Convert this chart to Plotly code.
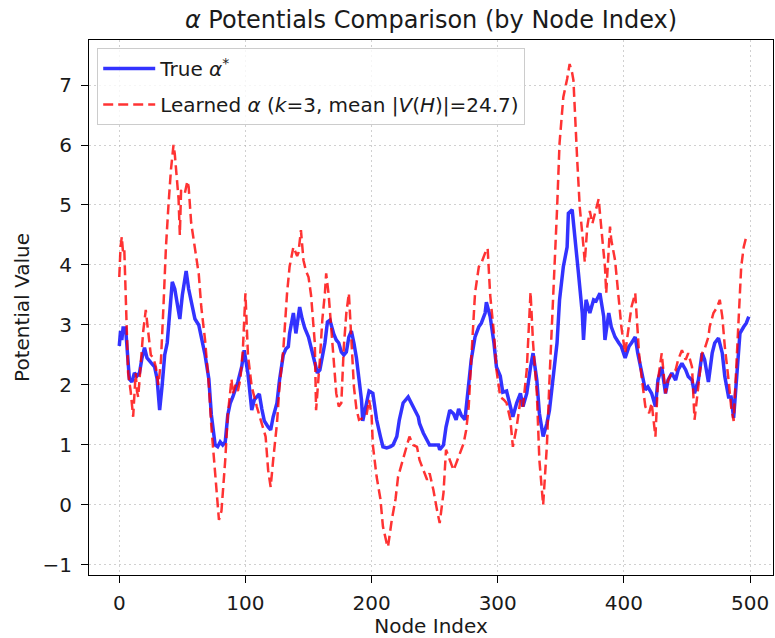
import plotly.graph_objects as go

# True potentials (alpha*) sampled along the node index
true_nodes = [0, 1, 2, 3, 5, 6, 8, 10, 12, 14, 16, 18, 20, 22, 24, 26, 28, 30, 32, 34,
              36, 38, 40, 42, 44, 46, 48, 50, 52, 53, 55, 58, 60, 63, 68, 71, 73, 76, 78, 80,
              82, 84, 86, 88, 90, 94, 97, 99, 102, 105, 107, 109, 111, 113, 115, 118, 120, 122, 125, 127,
              130, 132, 134, 135, 138, 140, 143, 145, 147, 150, 152, 155, 157, 159, 161, 163, 165, 167, 170, 172,
              174, 176, 178, 180, 182, 184, 186, 188, 190, 192, 193, 195, 196, 198, 201, 204, 207, 209, 212, 215,
              217, 220, 222, 225, 229, 233, 237, 238, 241, 246, 250, 253, 254, 257, 259, 262, 265, 267, 269, 271,
              274, 277, 279, 282, 285, 287, 290, 291, 294, 297, 299, 302, 304, 307, 310, 312, 315, 318, 320, 323,
              326, 328, 331, 333, 336, 339, 341, 344, 347, 349, 352, 355, 356, 359, 361, 364, 367, 368, 370, 373,
              376, 378, 381, 384, 385, 388, 390, 393, 396, 398, 401, 404, 406, 409, 411, 414, 417, 419, 422, 425,
              427, 430, 433, 435, 438, 441, 443, 446, 449, 451, 454, 456, 459, 462, 464, 467, 470, 472, 475, 478,
              480, 483, 485, 487, 489, 492, 495, 497, 499]
true_vals = [2.65, 2.9, 2.75, 2.95, 2.95, 2.6, 2.1, 2.05, 2.2, 2.15, 2.2, 2.45, 2.62, 2.45, 2.4, 2.35, 2.3, 2.1, 1.58, 2.0,
             2.5, 2.7, 3.3, 3.72, 3.6, 3.35, 3.1, 3.5, 3.8, 3.9, 3.6, 3.3, 3.1, 3.0, 2.5, 2.1, 1.5, 1.0, 0.97, 1.05,
             1.0, 1.05, 1.5, 1.7, 1.8, 2.05, 2.3, 2.58, 2.19, 1.58, 1.75, 1.8, 1.85, 1.6, 1.4, 1.3, 1.25, 1.47, 1.7, 2.08,
             2.5, 2.6, 2.64, 2.86, 3.2, 2.86, 3.3, 3.1, 2.95, 2.8, 2.64, 2.4, 2.2, 2.25, 2.5, 2.7, 3.05, 3.08, 2.85, 2.75,
             2.7, 2.55, 2.5, 2.55, 2.8, 2.9, 2.7, 2.45, 2.1, 1.75, 1.4, 1.6, 1.75, 1.9, 1.86, 1.42, 1.14, 0.97, 0.95, 0.97,
             1.0, 1.14, 1.42, 1.7, 1.8, 1.64, 1.47, 1.36, 1.2, 1.0, 1.0, 1.0, 0.92, 1.0, 1.3, 1.58, 1.52, 1.42, 1.6, 1.5,
             1.42, 1.97, 2.42, 2.8, 2.97, 3.03, 3.2, 3.38, 3.14, 2.7, 2.3, 2.15, 1.88, 1.9, 1.64, 1.47, 1.7, 1.86, 1.64, 1.86,
             2.3, 2.53, 2.08, 1.53, 1.14, 1.36, 1.58, 2.14, 2.7, 3.42, 3.97, 4.3, 4.86, 4.92, 4.53, 3.86, 3.2, 2.75, 3.42, 3.2,
             3.42, 3.4, 3.53, 3.14, 2.75, 3.2, 2.97, 2.8, 2.7, 2.64, 2.45, 2.64, 2.7, 2.8, 2.53, 2.2, 1.92, 1.97, 1.86, 1.64,
             2.08, 2.3, 1.86, 2.08, 2.2, 2.08, 2.25, 2.36, 2.25, 2.14, 2.08, 1.86, 2.08, 2.53, 2.42, 2.05, 2.53, 2.7, 2.78, 2.53,
             2.14, 1.8, 1.8, 1.45, 2.08, 2.86, 2.97, 3.03, 3.14]

# Learned potentials (alpha, k=3) sampled along the node index
learned_nodes = [0, 1, 2, 3, 4, 5, 6, 7, 9, 11, 13, 14, 15, 17, 19, 21, 23, 25, 27, 29,
                 31, 33, 35, 37, 39, 41, 43, 44, 47, 48, 49, 52, 54, 55, 57, 60, 63, 65, 68, 71,
                 73, 76, 78, 79, 81, 84, 86, 88, 89, 90, 92, 94, 96, 98, 100, 102, 105, 109, 113, 116,
                 118, 120, 122, 125, 127, 130, 133, 135, 138, 141, 142, 144, 146, 148, 150, 152, 155, 156, 159, 161,
                 163, 164, 166, 168, 170, 172, 174, 176, 178, 180, 182, 184, 186, 188, 190, 193, 196, 198, 200, 201,
                 204, 207, 209, 212, 213, 216, 219, 221, 225, 228, 230, 233, 236, 238, 241, 244, 246, 249, 252, 254,
                 257, 259, 262, 265, 267, 270, 273, 275, 277, 279, 282, 285, 287, 290, 292, 294, 297, 299, 302, 305,
                 307, 310, 312, 315, 318, 320, 323, 326, 328, 331, 333, 336, 339, 341, 344, 347, 349, 352, 355, 357,
                 359, 360, 363, 365, 368, 369, 371, 373, 375, 377, 380, 382, 385, 386, 389, 390, 393, 396, 398, 401,
                 404, 406, 409, 410, 412, 414, 417, 420, 422, 425, 427, 430, 433, 435, 438, 441, 443, 446, 449, 451,
                 454, 456, 459, 462, 464, 467, 468, 471, 474, 476, 478, 480, 483, 485, 487, 488, 491, 493, 495, 497]
learned_vals = [3.8, 4.3, 4.47, 4.2, 4.25, 3.5, 2.6, 2.2, 1.9, 1.47, 2.2, 1.9, 1.8, 2.3, 2.9, 3.25, 2.9, 2.5, 2.45, 2.3,
                2.0, 2.4, 3.3, 4.3, 5.0, 5.6, 6.0, 5.85, 5.1, 4.5, 5.25, 5.2, 5.4, 5.3, 4.7, 4.3, 3.85, 3.3, 2.75, 2.0,
                1.3, 0.53, -0.05, -0.25, -0.1, 0.75, 1.5, 1.9, 2.1, 1.85, 2.0, 1.9, 2.1, 2.6, 3.53, 2.5, 1.97, 1.64, 1.36, 1.14,
                0.58, 0.3, 0.75, 1.36, 1.97, 2.58, 3.53, 3.97, 4.3, 4.15, 4.2, 4.58, 4.08, 3.9, 3.8, 3.5, 2.7, 1.58, 2.42, 3.1,
                3.53, 3.86, 3.5, 2.97, 2.42, 1.86, 1.64, 1.7, 2.64, 3.2, 3.53, 2.75, 1.97, 1.6, 1.42, 1.45, 1.5, 1.75, 1.5, 1.0,
                0.47, 0.1, -0.36, -0.64, -0.7, -0.25, 0.1, 0.47, 0.75, 1.0, 1.14, 1.0, 0.97, 0.75, 0.58, 0.42, 0.53, 0.25, -0.1, -0.3,
                0.2, 0.92, 0.75, 0.58, 0.69, 0.86, 1.03, 1.25, 1.64, 2.42, 3.53, 3.97, 4.03, 4.2, 4.28, 3.5, 2.86, 2.25, 1.8, 1.75,
                1.7, 1.42, 0.97, 1.3, 1.75, 1.64, 2.25, 3.55, 2.7, 1.86, 0.75, 0.0, 1.0, 2.08, 3.42, 4.92, 6.03, 6.8, 7.1, 7.35,
                7.2, 7.08, 5.75, 4.97, 4.3, 4.05, 4.64, 4.9, 4.69, 4.86, 5.1, 4.64, 3.97, 3.53, 4.64, 4.42, 4.08, 3.42, 2.97, 2.53,
                3.03, 3.3, 3.53, 3.2, 2.53, 2.14, 1.64, 1.53, 1.7, 1.14, 2.08, 2.53, 1.86, 2.08, 2.2, 2.25, 2.42, 2.58, 2.42, 2.53,
                2.3, 1.42, 1.97, 2.53, 2.6, 2.8, 2.97, 3.2, 3.3, 3.42, 3.14, 2.64, 2.08, 1.64, 1.4, 1.86, 2.97, 3.97, 4.3, 4.47]

x_ticks = [0, 100, 200, 300, 400, 500]
y_ticks = [-1, 0, 1, 2, 3, 4, 5, 6, 7]

FONT = "DejaVu Sans"
TXT = "#1a1a1a"

fig = go.Figure()
fig.add_trace(go.Scatter(
    x=true_nodes, y=true_vals, mode="lines",
    name="True <i>α</i><sup>*</sup>",
    legendgroup="true",
    line=dict(color="rgba(0,0,255,0.8)", width=3.5),
))
fig.add_trace(go.Scatter(
    x=learned_nodes, y=learned_vals, mode="lines",
    name="Learned <i>α</i> (<i>k</i>=3, mean |<i>V</i>(<i>H</i>)|=24.7)",
    legendgroup="learned",
    line=dict(color="rgba(255,0,0,0.8)", width=2.5, dash="10px,5px"),
))

axis_common = dict(
    showline=True, mirror=True, linecolor="black", linewidth=1,
    ticks="outside", ticklen=7, tickwidth=1, tickcolor="black",
    showgrid=True, gridcolor="rgba(176,176,176,0.6)", griddash="2px,3px", gridwidth=1,
    zeroline=False,
    tickfont=dict(family=FONT, size=20, color=TXT),
)

fig.update_layout(
    width=775, height=638,
    margin=dict(l=89, r=2, t=40, b=63),
    paper_bgcolor="white", plot_bgcolor="white",
    title=dict(
        text="<i>α</i> Potentials Comparison (by Node Index)",
        x=0.5, xref="paper", xanchor="center",
        y=0.97, yref="container", yanchor="middle",
        font=dict(family=FONT, size=24, color=TXT),
    ),
    xaxis=dict(
        range=[-24.0, 518.2], tickvals=x_ticks, ticklabelstandoff=3,
        title=dict(text="Node Index", font=dict(family=FONT, size=20, color=TXT), standoff=4),
        **axis_common,
    ),
    yaxis=dict(
        range=[-1.167, 7.75], tickvals=y_ticks, ticklabelstandoff=5,
        title=dict(text="Potential Value", font=dict(family=FONT, size=20, color=TXT), standoff=7),
        **axis_common,
    ),
    legend=dict(
        x=0.012, y=0.985, xanchor="left", yanchor="top",
        bgcolor="rgba(255,255,255,0.8)", bordercolor="#cccccc", borderwidth=1,
        font=dict(family=FONT, size=20, color=TXT),
        itemwidth=52, tracegroupgap=7,
    ),
    showlegend=True,
)

fig.write_html("out.html")
